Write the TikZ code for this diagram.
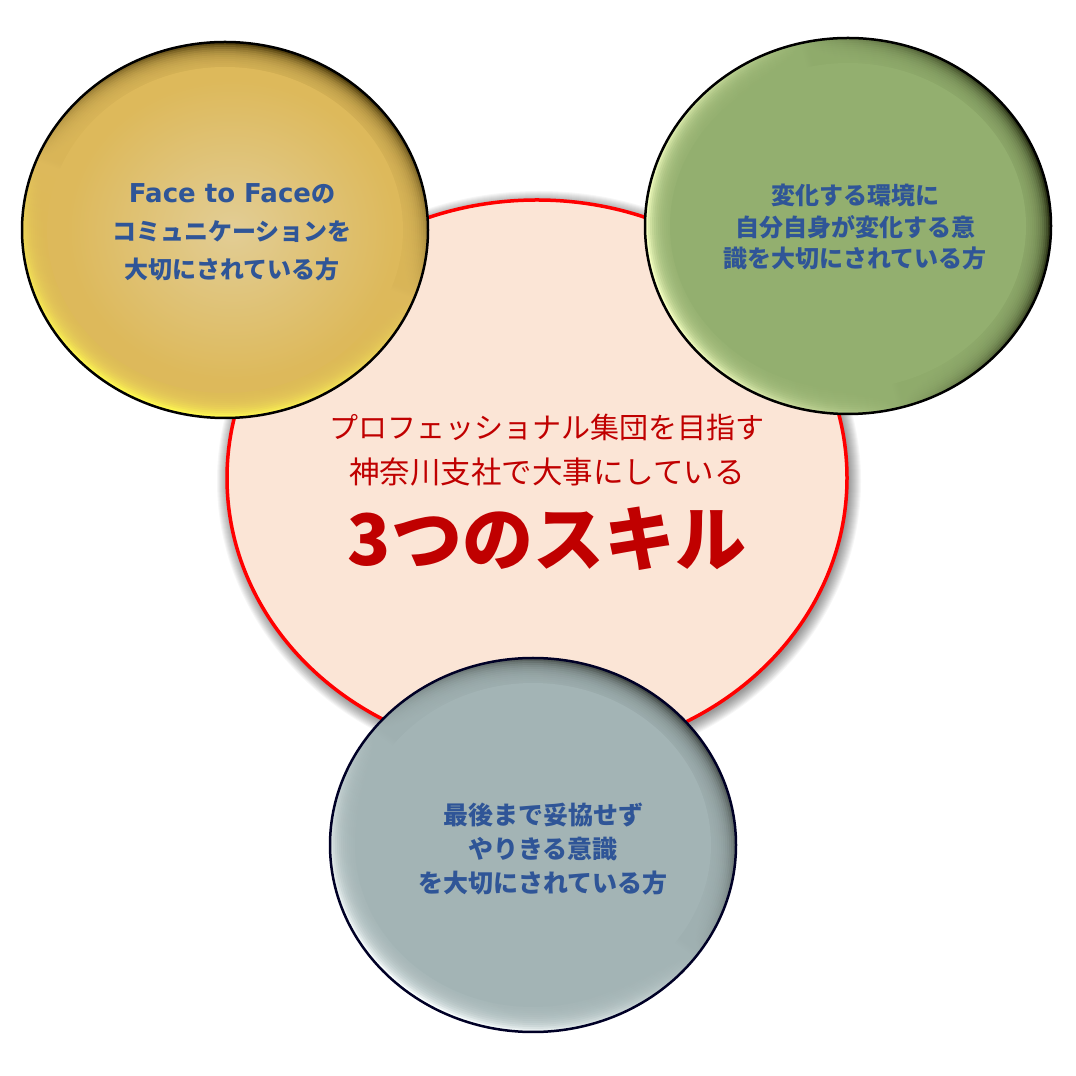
\documentclass[tikz,border=0pt]{standalone}
\usepackage{fontspec}
\newfontfamily\jp{Noto Sans CJK JP}
\newfontfamily\latinbold{DejaVu Sans}
\definecolor{gbase}{HTML}{DDB95B}
\definecolor{gdark}{HTML}{4E3C0C}
\definecolor{glight}{HTML}{FFFA50}
\definecolor{gcenter}{HTML}{E2CD95}
\definecolor{vbase}{HTML}{93AF6F}
\definecolor{vdark}{HTML}{2C3416}
\definecolor{vlight}{HTML}{F4FFC0}
\definecolor{sbase}{HTML}{A3B4B5}
\definecolor{sdark}{HTML}{444B47}
\definecolor{slight}{HTML}{FAFFFF}
\definecolor{peach}{HTML}{FBE5D6}
\definecolor{txtblue}{HTML}{2F5597}
\definecolor{txtred}{HTML}{C00000}
\tikzset{
  bluetext/.style={font=\jp\bfseries\fontsize{24}{38}\selectfont, text=txtblue, align=center, inner sep=0pt},
  redline/.style={font=\jp\fontsize{29}{34}\selectfont, text=txtred, inner sep=0pt},
  redtitle/.style={font=\jp\bfseries\fontsize{71}{80}\selectfont, text=txtred, inner sep=0pt},
  rimline/.style={line width=2.5pt, draw=black},
  centreshape/.style={fill=peach, draw=red, line width=3.5pt},
  softlayer/.style={opacity=0.2}
}
\begin{document}
\begin{tikzpicture}[x=1pt,y=1pt]
\useasboundingbox (0,0) rectangle (1076,1076);
\fill[white] (0,0) rectangle (1076,1076);
% soft shadow of the central shape
\foreach \k in {1,...,13}{
  \fill[black, opacity=0.035] (539,595) ellipse ({(309+\k)*1pt} and {(277+\k)*1pt});
}
% central shape
\path[centreshape] (537,598) ellipse (310pt and 278pt);
\coordinate (centre) at (537,598);
\node[redline] (c1) at (547,649) {プロフェッショナル集団を目指す};
\node[redline, font=\jp\fontsize{30.5}{34}\selectfont] (c2) at (547,604) {神奈川支社で大事にしている};
\node[redtitle] (c3) at (547,537) {3つのスキル};
% gold circle
\shade[top color=gdark, bottom color=glight, middle color=gbase, shading angle=-20] (225,846) ellipse (203pt and 188pt);
\foreach \i in {0,...,10}{
  \fill[gbase, softlayer] (225,846) ellipse ({(200-2*\i)*1pt} and {(185-2*\i)*1pt});
}
\fill[gbase] (225,846) ellipse (178pt and 163pt);
\shade[inner color=gcenter, outer color=gbase] (232,846) ellipse (165pt and 150pt);
\draw[rimline] (225,846) ellipse (203pt and 188pt);
\node[bluetext] (gold) at (232,844) {{\latinbold\bfseries\fontsize{26}{38}\selectfont Face to Face}の\\コミュニケーションを\\大切にされている方};
% green circle
\shade[top color=vdark, bottom color=vlight, middle color=vbase, shading angle=-75] (848,850) ellipse (203pt and 188pt);
\foreach \i in {0,...,10}{
  \fill[vbase, softlayer] (848,850) ellipse ({(200-2*\i)*1pt} and {(185-2*\i)*1pt});
}
\fill[vbase] (848,850) ellipse (178pt and 163pt);
\draw[rimline] (848,850) ellipse (203pt and 188pt);
\node[bluetext, font=\jp\bfseries\fontsize{24}{31.5}\selectfont] (green) at (855,849) {変化する環境に\\自分自身が変化する意\\識を大切にされている方};
% grey circle
\shade[top color=sdark, bottom color=slight, middle color=sbase, shading angle=-35] (533,231) ellipse (203pt and 187pt);
\foreach \i in {0,...,10}{
  \fill[sbase, softlayer] (533,231) ellipse ({(200-2*\i)*1pt} and {(184-2*\i)*1pt});
}
\fill[sbase] (533,231) ellipse (178pt and 162pt);
\draw[rimline, draw=black!85!blue] (533,231) ellipse (203pt and 187pt);
\node[bluetext, font=\jp\bfseries\fontsize{25}{34}\selectfont] (grey) at (543,227) {最後まで妥協せず\\やりきる意識\\を大切にされている方};
\end{tikzpicture}
\end{document}
